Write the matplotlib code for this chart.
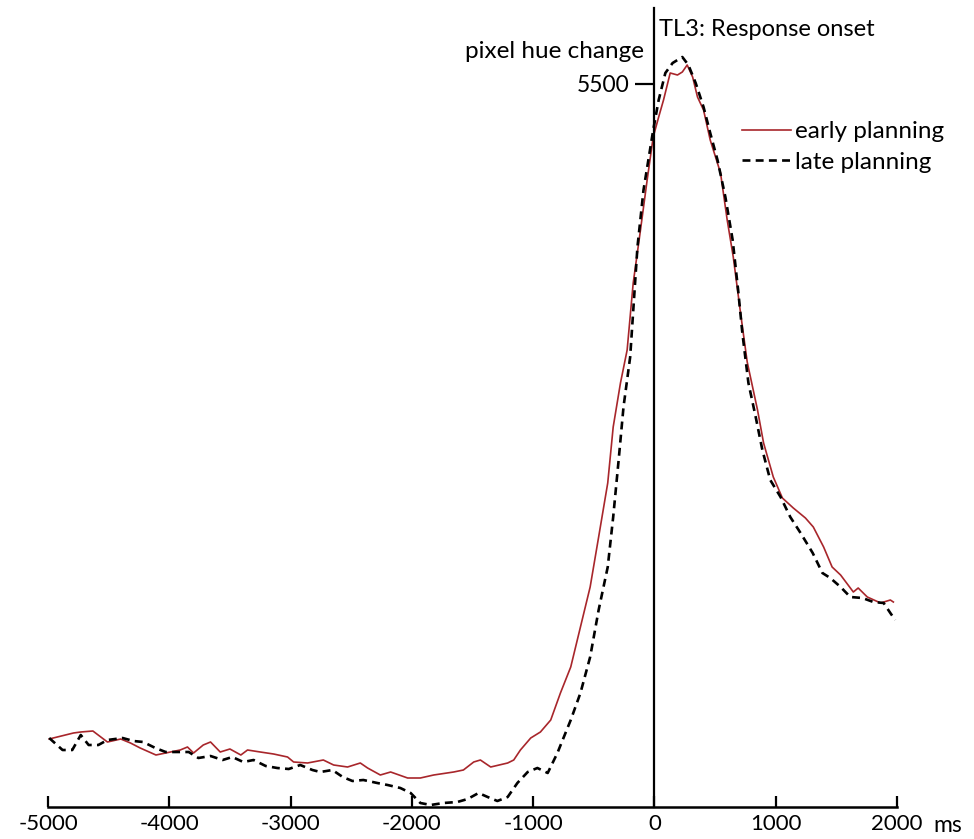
import matplotlib.pyplot as plt

# time axis (ms) and pixel hue change
early_t = [-4990, -4790, -4730, -4630, -4510, -4400, -4320, -4240, -4110, -3990,
           -3910, -3850, -3800, -3720, -3660, -3580, -3500, -3410, -3355, -3250,
           -3140, -3025, -2975, -2860, -2730, -2645, -2530, -2425, -2365, -2260,
           -2175, -2035, -1930, -1820, -1655, -1575, -1490, -1435, -1350, -1210,
           -1160, -1105, -1020, -940, -855, -775, -690, -610, -530, -460,
           -385, -340, -280, -225, -175, -115, -60, -10, 35, 75,
           130, 190, 230, 270, 315, 355, 405, 460, 545, 600,
           650, 710, 765, 850, 900, 980, 1055, 1145, 1245, 1310,
           1395, 1465, 1535, 1640, 1680, 1755, 1865, 1945, 1970]
early_v = [2225, 2255, 2260, 2265, 2210, 2225, 2205, 2180, 2145, 2160,
           2170, 2185, 2155, 2195, 2210, 2160, 2175, 2145, 2170, 2160,
           2150, 2135, 2110, 2105, 2120, 2095, 2085, 2105, 2080, 2045,
           2060, 2030, 2030, 2045, 2060, 2070, 2110, 2120, 2085, 2105,
           2120, 2170, 2230, 2260, 2320, 2455, 2585, 2785, 2985, 3235,
           3505, 3785, 4005, 4170, 4505, 4770, 5020, 5235, 5335, 5420,
           5555, 5545, 5560, 5595, 5535, 5435, 5370, 5220, 5055, 4820,
           4635, 4355, 4110, 3870, 3705, 3535, 3430, 3380, 3330, 3285,
           3185, 3085, 3045, 2960, 2980, 2935, 2905, 2920, 2910]

late_t = [-4990, -4880, -4800, -4730, -4665, -4585, -4510, -4385, -4295, -4215,
          -4115, -4030, -3930, -3840, -3760, -3660, -3560, -3480, -3390, -3305,
          -3205, -3110, -3015, -2920, -2820, -2755, -2655, -2570, -2490, -2400,
          -2285, -2200, -2095, -2010, -1930, -1845, -1740, -1625, -1540, -1450,
          -1375, -1295, -1210, -1130, -1045, -965, -880, -800, -690, -610,
          -530, -460, -385, -340, -295, -255, -200, -140, -90, -10,
          35, 90, 150, 230, 280, 340, 405, 460, 520, 585,
          645, 690, 725, 775, 835, 890, 955, 1040, 1120, 1205,
          1305, 1385, 1450, 1535, 1615, 1715, 1805, 1890, 1945, 1985]
late_v = [2230, 2170, 2170, 2245, 2195, 2195, 2220, 2230, 2215, 2210,
          2180, 2160, 2160, 2160, 2130, 2140, 2120, 2135, 2110, 2120,
          2090, 2080, 2075, 2095, 2070, 2060, 2070, 2035, 2015, 2020,
          2005, 1995, 1980, 1955, 1905, 1895, 1905, 1910, 1925, 1955,
          1935, 1915, 1935, 2005, 2060, 2080, 2055, 2155, 2320, 2455,
          2635, 2870, 3085, 3335, 3620, 3885, 4135, 4685, 4970, 5270,
          5420, 5555, 5605, 5635, 5595, 5505, 5385, 5255, 5120, 4935,
          4720, 4470, 4255, 4005, 3835, 3670, 3520, 3435, 3335, 3255,
          3155, 3055, 3030, 2985, 2935, 2930, 2910, 2905, 2855, 2820]

xticks = [-5000, -4000, -3000, -2000, -1000, 0, 1000, 2000]

plt.rcParams['font.family'] = ['Lato', 'DejaVu Sans']

fig = plt.figure(figsize=(9.74, 8.39), dpi=100)
ax = fig.add_axes([48/974, 32/839, 849/974, 799/839])

ax.plot(early_t, early_v, color='#a8262b', lw=1.2, label='early planning')
ax.plot(late_t, late_v, color='black', lw=1.9, dashes=(3, 2), label='late planning')

ax.set_xlim(-5000, 2000)
ax.set_ylim(1885, 5880)

# y axis sits at response onset (t = 0)
for s in ['top', 'right']:
    ax.spines[s].set_visible(False)
ax.spines['left'].set_position(('data', 0))
ax.spines['left'].set_linewidth(1.6)
ax.spines['bottom'].set_linewidth(1.8)

ax.set_xticks(xticks)
ax.set_xticklabels([str(t) for t in xticks])
ax.tick_params(axis='x', direction='in', length=8, width=1.6, pad=5, labelsize=16)
ax.set_yticks([5500])
ax.tick_params(axis='y', direction='out', length=14, width=1.6, pad=4, labelsize=16.5)

ax.annotate('ms', xy=(2000, 0), xycoords=('data', 'axes fraction'),
            xytext=(26, -6), textcoords='offset points', va='top', ha='left', fontsize=16.5)
ax.text(-90, 5660, 'pixel hue change', ha='right', va='center', fontsize=17.5)
ax.text(40, 5770, 'TL3: Response onset', ha='left', va='center', fontsize=17)

ax.legend(loc='upper left', bbox_to_anchor=(0.8174, 0.858), frameon=False, fontsize=17.5,
          handlelength=2.0, handletextpad=0.2, labelspacing=0.38, borderpad=0,
          borderaxespad=0)

fig.savefig('out.png', dpi=100)
